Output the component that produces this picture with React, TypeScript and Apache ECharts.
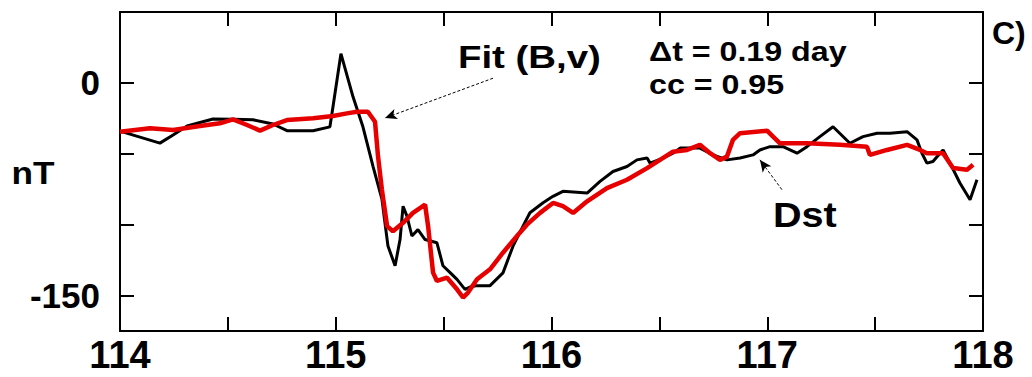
import React, { useEffect, useRef } from "react";
import * as echarts from "echarts";

// Dst (observed) — day of year vs nT
const dstX = [114.0, 114.185, 114.246, 114.311, 114.431, 114.524, 114.616, 114.709, 114.774, 114.895, 114.973, 114.987, 115.024, 115.08, 115.126, 115.173, 115.214, 115.242, 115.275, 115.298, 115.312, 115.33, 115.353, 115.381, 115.414, 115.469, 115.497, 115.53, 115.562, 115.599, 115.622, 115.655, 115.715, 115.775, 115.822, 115.868, 115.9, 115.961, 116.007, 116.053, 116.165, 116.225, 116.285, 116.35, 116.396, 116.443, 116.457, 116.517, 116.563, 116.596, 116.688, 116.749, 116.813, 116.874, 116.934, 116.966, 117.013, 117.073, 117.138, 117.184, 117.244, 117.305, 117.383, 117.444, 117.509, 117.569, 117.648, 117.694, 117.717, 117.74, 117.768, 117.801, 117.815, 117.847, 117.893, 117.94, 117.972];
const dstY = [-34, -42.5, -36.7, -30.4, -25.5, -25.7, -26, -29, -33.7, -33.7, -31, -17, 20.6, -9.8, -31, -59, -82, -115, -129, -110.5, -87, -94, -108, -103.5, -110.5, -112.8, -129, -133.8, -138.6, -145.6, -144, -143, -143, -134, -115, -101, -91.6, -84.5, -80, -76.5, -77.7, -69.5, -62.5, -59, -54.3, -53, -56.6, -53, -49.6, -46, -46, -50.8, -54.3, -53, -50.8, -47.3, -45, -45, -49.6, -45, -37.9, -30.9, -42.6, -37.9, -35.5, -35.5, -34.4, -40.2, -49.6, -56.6, -55.5, -49.6, -47.3, -56.6, -70.6, -82.4, -68.3];

// Fit (B,v) — model
const fitX = [114.0, 114.139, 114.246, 114.371, 114.463, 114.524, 114.589, 114.649, 114.709, 114.774, 114.895, 114.987, 115.052, 115.098, 115.149, 115.182, 115.196, 115.214, 115.238, 115.265, 115.312, 115.358, 115.414, 115.428, 115.451, 115.469, 115.516, 115.562, 115.59, 115.613, 115.655, 115.715, 115.775, 115.84, 115.886, 115.947, 116.007, 116.053, 116.1, 116.165, 116.257, 116.35, 116.443, 116.503, 116.563, 116.628, 116.688, 116.735, 116.781, 116.813, 116.841, 116.874, 116.999, 117.027, 117.059, 117.184, 117.337, 117.462, 117.476, 117.555, 117.648, 117.708, 117.74, 117.815, 117.861, 117.926, 117.954];
const fitY = [-34.4, -32, -33.2, -30.4, -28.5, -25.7, -29.7, -33.7, -29.7, -26.2, -25, -23.4, -21.5, -20.4, -20.4, -27.4, -52, -75.4, -101, -104.6, -98.7, -91.7, -85.9, -101, -133.8, -139.7, -137.4, -145.6, -151.4, -147.9, -138.5, -131.5, -119.8, -108, -100, -91.7, -84.7, -87, -91.7, -83.5, -74.2, -68.3, -60.1, -54.3, -48.5, -47.3, -43.7, -49.6, -54.3, -52, -40.2, -35.5, -33.7, -37.9, -42.6, -42.6, -43.7, -45, -50.8, -47.3, -43.7, -47.3, -49.6, -49.6, -60.1, -61.3, -57.8];

const xMin = 114;
const xMax = 118;
const xStep = 0.5;
const yMin = -175;
const yMax = 50;
const yTicks = [-150, -100, -50, 0];
const yLabels = [-150, 0];

// Arrow annotations (data coordinates: [from, to])
const fitArrow = [[115.729, 3.3], [115.228, -24.8]];
const dstArrow = [[117.068, -75.3], [116.966, -54.3]];

const FONT = "'Liberation Sans', Arial, sans-serif";

export default function App() {
  const ref = useRef<HTMLDivElement>(null);
  useEffect(() => {
    if (!ref.current) return;
    const chart = echarts.init(ref.current, null, { renderer: "svg" });
    const dst = dstX.map((x, i) => [x, dstY[i]]);
    const fit = fitX.map((x, i) => [x, fitY[i]]);
    const axisLine = { show: true, onZero: false, lineStyle: { color: "#000", width: 2 } };
    const xTick = { show: true, inside: true, length: 14, lineStyle: { color: "#000", width: 2 } };
    const yTick = { show: true, inside: true, length: 14, customValues: yTicks, lineStyle: { color: "#000", width: 2 } };
    chart.setOption({
      animation: false,
      backgroundColor: "#fff",
      grid: { left: 120, right: 49, top: 12, bottom: 46, containLabel: false },
      xAxis: [
        {
          type: "value", position: "bottom", min: xMin, max: xMax, interval: xStep,
          axisLine, axisTick: xTick, splitLine: { show: false },
          axisLabel: {
            margin: 5, color: "#000", fontFamily: FONT, fontWeight: "bold", fontSize: 38,
            formatter: (v: number) => (Math.abs(v - Math.round(v)) < 1e-6 ? String(Math.round(v)) : ""),
          },
        },
        {
          type: "value", position: "top", min: xMin, max: xMax, interval: xStep,
          axisLine, axisTick: xTick, splitLine: { show: false }, axisLabel: { show: false },
        },
      ],
      yAxis: [
        {
          type: "value", position: "left", min: yMin, max: yMax,
          axisLine, axisTick: yTick, splitLine: { show: false },
          axisLabel: {
            customValues: yLabels, margin: 20, color: "#000", fontFamily: FONT, fontWeight: "bold", fontSize: 35,
          },
        },
        {
          type: "value", position: "right", min: yMin, max: yMax,
          axisLine, axisTick: yTick, splitLine: { show: false }, axisLabel: { show: false },
        },
      ],
      series: [
        {
          name: "Dst", type: "line", data: dst, showSymbol: false, z: 2,
          lineStyle: { color: "#000", width: 3 },
          markLine: {
            silent: true, symbol: ["none", "arrow"], symbolSize: [8, 12],
            label: { show: false },
            lineStyle: { color: "#000", width: 1, type: [3, 2] },
            data: [[{ coord: dstArrow[0] }, { coord: dstArrow[1] }]],
          },
        },
        {
          name: "Fit (B,v)", type: "line", data: fit, showSymbol: false, z: 3,
          lineStyle: { color: "#e60000", width: 4.5 },
          markLine: {
            silent: true, symbol: ["none", "arrow"], symbolSize: [8, 12],
            label: { show: false },
            lineStyle: { color: "#000", width: 1, type: [3, 2] },
            data: [[{ coord: fitArrow[0] }, { coord: fitArrow[1] }]],
          },
        },
      ],
      graphic: [
        { type: "text", x: 33, y: 173, scaleX: 1.1, style: { text: "nT", font: `bold 32px ${FONT}`, fill: "#000", align: "center", verticalAlign: "middle" } },
        { type: "text", x: 458, y: 57, scaleX: 1.2, style: { text: "Fit (B,v)", font: `bold 32px ${FONT}`, fill: "#000", align: "left", verticalAlign: "middle" } },
        { type: "text", x: 649, y: 51, scaleX: 1.15, style: { text: "Δt = 0.19 day", font: `bold 28px ${FONT}`, fill: "#000", align: "left", verticalAlign: "middle" } },
        { type: "text", x: 649, y: 84, scaleX: 1.15, style: { text: "cc = 0.95", font: `bold 28px ${FONT}`, fill: "#000", align: "left", verticalAlign: "middle" } },
        { type: "text", x: 992, y: 33, style: { text: "C)", font: `bold 32px ${FONT}`, fill: "#000", align: "left", verticalAlign: "middle" } },
        { type: "text", x: 773, y: 215, scaleX: 1.1, style: { text: "Dst", font: `bold 36px ${FONT}`, fill: "#000", align: "left", verticalAlign: "middle" } },
      ],
    });
    return () => chart.dispose();
  }, []);
  return <div ref={ref} style={{ position: "absolute", left: 0, top: 0, width: 1032, height: 377 }} />;
}
